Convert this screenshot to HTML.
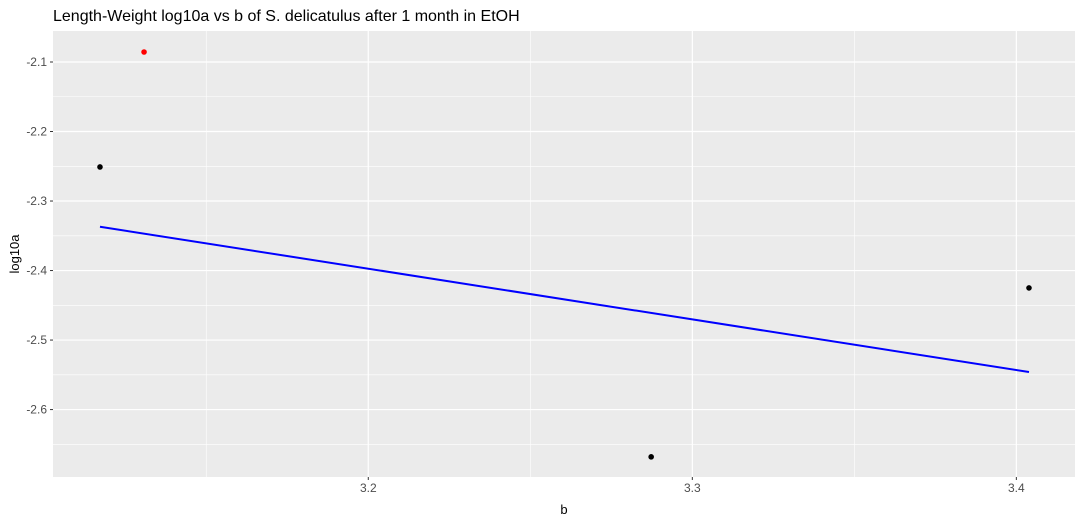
<!DOCTYPE html>
<html><head><meta charset="utf-8"><style>
body{margin:0;background:#fff;font-family:"Liberation Sans",Arial,sans-serif}
</style></head><body>
<svg id="chart" width="1083" height="523" xmlns="http://www.w3.org/2000/svg"></svg>
<script>
const xTicks=[3.2,3.3,3.4];
const yTicks=[-2.1,-2.2,-2.3,-2.4,-2.5,-2.6];
const pointB=[3.1172,3.1308,3.2873,3.4039];
const pointLog=[-2.251,-2.0856,-2.668,-2.425];
const pointOutlier=[false,true,false,false];
const lineB=[3.1172,3.4039];
const lineLog=[-2.337,-2.546];

const NS="http://www.w3.org/2000/svg";
const svg=document.getElementById('chart');
const L=53,R=1075,T=31,B=477;
const xMin=3.1027,xMax=3.4181,yMin=-2.697,yMax=-2.0554;
const sx=v=>L+(v-xMin)/(xMax-xMin)*(R-L);
const sy=v=>B-(v-yMin)/(yMax-yMin)*(B-T);
function mk(tag,attrs,parent){const e=document.createElementNS(NS,tag);for(const k in attrs)e.setAttribute(k,attrs[k]);(parent||svg).appendChild(e);return e;}

const panel=mk('rect',{x:L,y:T,width:R-L,height:B-T,fill:'#ebebeb'});



// minor grid
for(let i=0;i<yTicks.length;i++){
  const v=yTicks[i]-0.05;
  if(v>yMin&&v<yMax){const g=mk('line',{x1:L,x2:R,y1:sy(v),y2:sy(v),stroke:'#fff','stroke-width':0.6});
  
  }
}
{const v=yTicks[0]+0.05;if(v<yMax){const g=mk('line',{x1:L,x2:R,y1:sy(v),y2:sy(v),stroke:'#fff','stroke-width':0.6});}}
[xTicks[0]-0.05].concat(xTicks.map(t=>t+0.05)).forEach(v=>{
  if(v>xMin&&v<xMax){const g=mk('line',{x1:sx(v),x2:sx(v),y1:T,y2:B,stroke:'#fff','stroke-width':0.6});
  
  }
});
// major grid + ticks
yTicks.forEach(v=>{
  const y=sy(v);
  const g=mk('line',{x1:L,x2:R,y1:y,y2:y,stroke:'#fff','stroke-width':1.2});
  
  
  const tk=mk('line',{x1:L-3,x2:L,y1:y,y2:y,stroke:'#333','stroke-width':1});
  
  
  const t=mk('text',{x:L-6,y:y+4,'text-anchor':'end','font-size':12,fill:'#4d4d4d'});
  t.textContent=v.toFixed(1);
  
  
});
xTicks.forEach(v=>{
  const x=sx(v);
  const g=mk('line',{x1:x,x2:x,y1:T,y2:B,stroke:'#fff','stroke-width':1.2});
  
  
  const tk=mk('line',{x1:x,x2:x,y1:B,y2:B+3,stroke:'#333','stroke-width':1});
  
  
  const t=mk('text',{x:x,y:B+15,'text-anchor':'middle','font-size':12,fill:'#4d4d4d'});
  t.textContent=v.toFixed(1);
  
  
});
// regression line
const ln=mk('line',{x1:sx(lineB[0]),y1:sy(lineLog[0]),x2:sx(lineB[1]),y2:sy(lineLog[1]),stroke:'#0000ff','stroke-width':2});


// points
for(let i=0;i<pointB.length;i++){
  const c=mk('circle',{cx:sx(pointB[i]),cy:sy(pointLog[i]),r:2.8,fill:pointOutlier[i]?'#ff0000':'#000'});
  
  
}
const title=mk('text',{x:53,y:21,'font-size':16,fill:'#000'});
title.textContent='Length-Weight log10a vs b of S. delicatulus after 1 month in EtOH';


const xt=mk('text',{x:(L+R)/2,y:514,'text-anchor':'middle','font-size':13,fill:'#000'});
xt.textContent='b';


const yt=mk('text',{x:0,y:0,'text-anchor':'middle','font-size':13,fill:'#000',transform:`translate(19,${(T+B)/2}) rotate(-90)`});
yt.textContent='log10a';


</script>
</body></html>
